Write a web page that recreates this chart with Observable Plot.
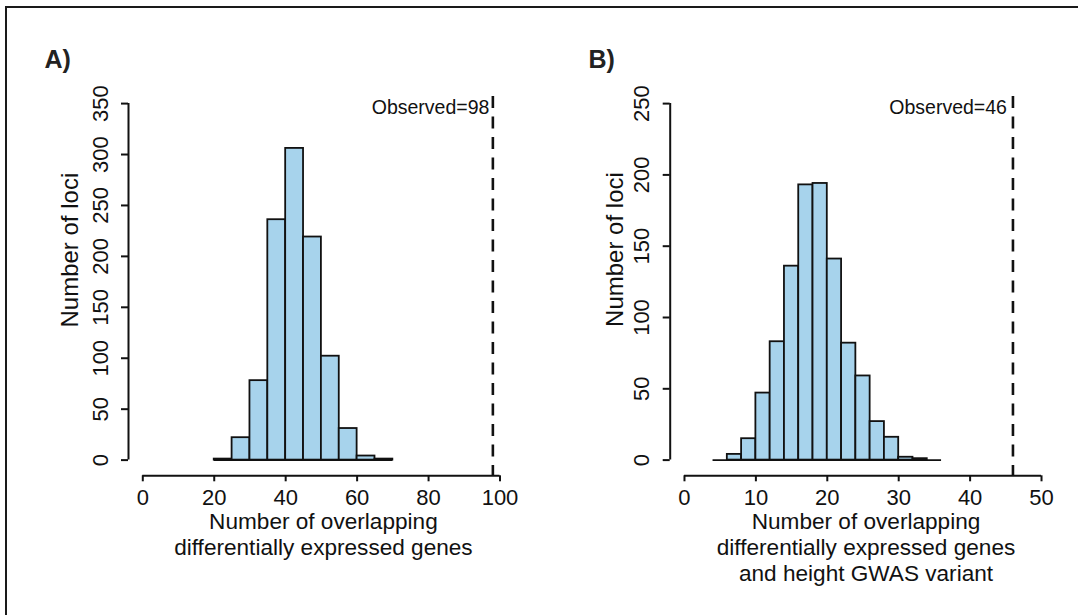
<!DOCTYPE html>
<html>
<head>
<meta charset="utf-8">
<script src="https://cdn.jsdelivr.net/npm/d3@7"></script>
<script src="https://cdn.jsdelivr.net/npm/@observablehq/plot@0.6"></script>
<style>
  html, body { margin: 0; padding: 0; background: #fff; }
  #wrap { position: relative; width: 1078px; height: 615px; overflow: hidden; font-family: "Liberation Sans", Arial, sans-serif; }
  #frame { position: absolute; left: 5px; top: 6px; width: 1080px; height: 620px; border-left: 2px solid #1a1a1a; border-top: 2px solid #1a1a1a; }
  #pa { position: absolute; left: 0; top: 0; }
  #pb { position: absolute; left: 540px; top: 0; }
</style>
</head>
<body>
<div id="wrap"><div id="frame"></div><div id="pa"></div><div id="pb"></div></div>
<script>
// ---- Panel A data ----
const binEdgesA = [20, 25, 30, 35, 40, 45, 50, 55, 60, 65, 70];
const countsA = [1, 22, 78, 236, 306, 219, 102, 31, 4, 1];
const xTicksA = [0, 20, 40, 60, 80, 100];
const yTicksA = [0, 50, 100, 150, 200, 250, 300, 350];
const observedA = 98;
const panelLabelA = "A)";
const xTitleA = "Number of overlapping\ndifferentially expressed genes";

// ---- Panel B data ----
const binEdgesB = [4, 6, 8, 10, 12, 14, 16, 18, 20, 22, 24, 26, 28, 30, 32, 34, 36];
const countsB = [0, 4, 15, 47, 83, 136, 193, 194, 141, 82, 59, 27, 16, 2, 1, 0];
const xTicksB = [0, 10, 20, 30, 40, 50];
const yTicksB = [0, 50, 100, 150, 200, 250];
const observedB = 46;
const panelLabelB = "B)";
const xTitleB = "Number of overlapping\ndifferentially expressed genes\nand height GWAS variant";

const yTitle = "Number of loci";

const FONT = "Liberation Sans, Arial, Helvetica, sans-serif";
const FILL = "#a7d3ec";
const INK = "#111";

function panel(o) {
  const bins = o.edges.slice(0, -1).map((e, i) => ({x1: e, x2: o.edges[i + 1], count: o.counts[i]}));
  return Plot.plot({
    width: o.width,
    height: 615,
    marginLeft: o.marginLeft,
    marginRight: o.marginRight,
    marginTop: 96,
    marginBottom: 139.7,
    x: {domain: o.xDomain},
    y: {domain: o.yDomain},
    style: {fontFamily: FONT, color: INK, background: "transparent", overflow: "visible"},
    marks: [
      Plot.rectY(bins, {x1: "x1", x2: "x2", y: "count", fill: FILL, stroke: INK, strokeWidth: 1.8, inset: 0}),
      Plot.ruleY([0], {x1: o.edges[0], x2: o.edges[o.edges.length - 1], stroke: INK, strokeWidth: 1.8}),
      Plot.ruleX([o.observed], {stroke: INK, strokeWidth: 2.6, strokeDasharray: "12,8.5"}),
      Plot.ruleX([o.xDomain[0]], {y1: o.yTicks[0], y2: o.yTicks[o.yTicks.length - 1], stroke: INK, strokeWidth: 2}),
      Plot.ruleY([o.yDomain[0]], {x1: o.xTicks[0], x2: o.xTicks[o.xTicks.length - 1], stroke: INK, strokeWidth: 2}),
      Plot.axisY(o.yTicks, {anchor: "left", tickRotate: -90, tickSize: 7, tickPadding: 13.8, fontSize: 22, label: null, strokeWidth: 2, stroke: INK, fill: INK}),
      Plot.axisX(o.xTicks, {anchor: "bottom", tickSize: 6, tickPadding: 8, fontSize: 22, label: null, strokeWidth: 2, stroke: INK, fill: INK}),
      Plot.text([yTitle], {text: d => d, frameAnchor: "left", rotate: -90, lineAnchor: "bottom", textAnchor: "middle", dx: o.yTitleDx, dy: o.yTitleDy, fontSize: 24, fill: INK}),
      Plot.text([o.xTitle], {text: d => d, frameAnchor: "bottom", lineAnchor: "top", textAnchor: "middle", dx: o.xTitleDx, dy: 34.5, fontSize: 22.6, lineHeight: 1.15, fill: INK}),
      Plot.text([o.observed], {x: d => d, text: d => `Observed=${d}`, frameAnchor: "top", lineAnchor: "top", textAnchor: "end", dx: o.obsDx, dy: 4, fontSize: 19.5, fill: INK}),
      Plot.text([o.label], {text: d => d, frameAnchor: "top-left", lineAnchor: "bottom", textAnchor: "start", dx: o.labelDx, dy: -29, fontSize: 25, fontWeight: "bold", fill: "#222"})
    ]
  });
}

document.getElementById("pa").appendChild(panel({
  edges: binEdgesA, counts: countsA, xTicks: xTicksA, yTicks: yTicksA, observed: observedA,
  label: panelLabelA, xTitle: xTitleA,
  width: 540, marginLeft: 128, marginRight: 26.2,
  xDomain: [-4, 104], yDomain: [-15.41, 356.96],
  yTitleDx: -50.5, yTitleDy: -36, xTitleDx: 2, obsDx: -3.5, labelDx: -84
}));

document.getElementById("pb").appendChild(panel({
  edges: binEdgesB, counts: countsB, xTicks: xTicksB, yTicks: yTicksB, observed: observedB,
  label: panelLabelB, xTitle: xTitleB,
  width: 538, marginLeft: 129.7, marginRight: 22.7,
  xDomain: [-2, 52], yDomain: [-11.01, 254.98],
  yTitleDx: -47.5, yTitleDy: -36.6, xTitleDx: 3, obsDx: -6, labelDx: -81.7
}));
</script>
</body>
</html>
